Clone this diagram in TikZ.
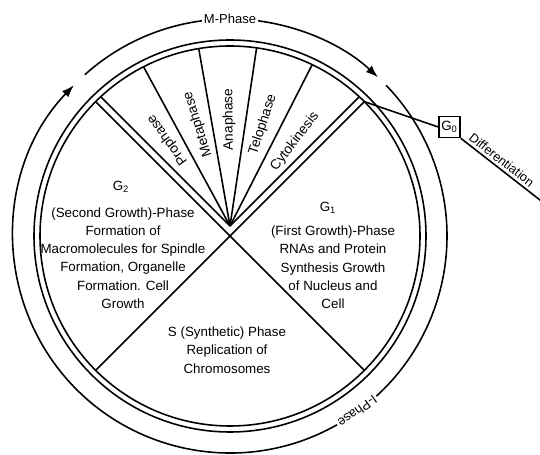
\documentclass[tikz,border=0pt]{standalone}
\usepackage{fontspec}
\setmainfont{Liberation Sans}
\usetikzlibrary{arrows.meta}

\begin{document}
\begin{tikzpicture}[line width=0.9pt,
  phase/.style={align=center,font=\fontsize{7.6}{10.4}\selectfont},
  fanlabel/.style={font=\fontsize{7.8}{9}\selectfont},
  ringlabel/.style={fill=white,inner sep=1pt,font=\fontsize{7.4}{9}\selectfont},
  cycletip/.style={-{Latex[length=7pt,width=5pt]}}]

\useasboundingbox (-4.6,-4.38) rectangle (6.2,4.72);

% rings
\draw (0,0) circle (3.8);
\draw (0,0) circle (3.92);

% G1, S, G2 borders
\draw (135:3.8) -- (-45:3.8);
\draw (45:3.8) -- (225:3.8);

% M phase fan
\coordinate (apex) at (0,0.2);
\begin{scope}
\clip (0,0) circle (3.8);
\foreach \a in {45,63,81.5,100,118.5,135} \draw (apex) -- ++(\a:5);
\end{scope}
\foreach \a/\t in {126/Prophase,107.5/Metaphase,90.5/Anaphase,72/Telophase,52.5/Cytokinesis}
  \node[fanlabel,rotate=\a] (\t) at ([shift={(\a:2.13)}]apex) {\t};

% outer cycle
\def\R{4.34}
\draw[cycletip] (-59:\R) arc[start angle=-59,end angle=-224,radius=\R];
\draw (132:\R) arc[start angle=132,end angle=97,radius=\R];
\draw[cycletip] (83:\R) arc[start angle=83,end angle=47,radius=\R];
\draw (44:\R) arc[start angle=44,end angle=-48,radius=\R];
\node[ringlabel] (mphase) at (90:\R) {M-Phase};
\node[ringlabel,rotate=-144] (iphase) at (-54:\R) {I-Phase};

% G2
\node[phase] (g2) at (-2.18,0.98) {G\textsubscript{2}};
\node[phase] (g2text) at (-2.14,-0.44) {(Second Growth)-Phase\\Formation of\\Macromolecules for Spindle\\Formation, Organelle\\Formation. Cell\\Growth};

% G1
\node[phase] (g1) at (1.96,0.56) {G\textsubscript{1}};
\node[phase] (g1text) at (2.06,-0.63) {(First Growth)-Phase\\RNAs and Protein\\Synthesis Growth\\of Nucleus and\\Cell};

% S
\node[phase] (stext) at (-0.06,-2.28) {S (Synthetic) Phase\\Replication of\\Chromosomes};

% G0
\coordinate (g1top) at (45:3.8);
\node[draw,minimum size=0.42cm,inner sep=1pt,font=\fontsize{7.6}{9}\selectfont] (g0) at (4.39,2.18) {G\textsubscript{0}};
\coordinate (diffend) at (6.25,0.68);
\draw (g1top) -- (g0.west);
\draw (g0.south east) -- node[sloped,above,pos=0.44,inner sep=1.5pt,font=\fontsize{7.2}{9}\selectfont] (diff) {Differentiation} (diffend);

\end{tikzpicture}
\end{document}
